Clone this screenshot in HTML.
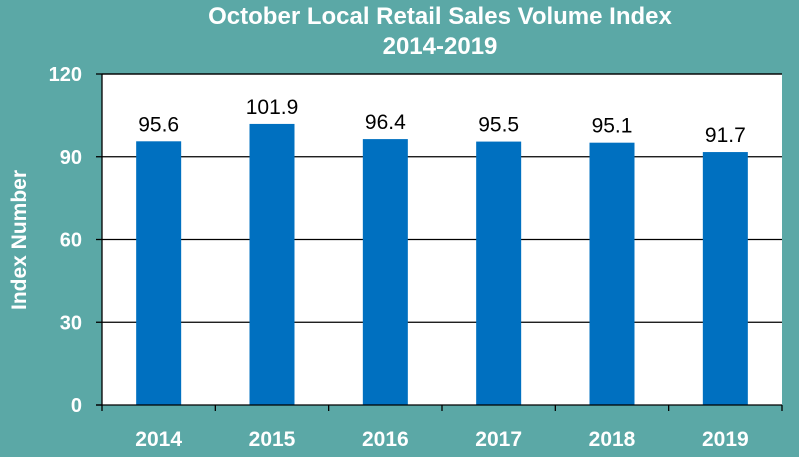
<!DOCTYPE html>
<html><head><meta charset="utf-8"><style>
html,body{margin:0;padding:0;background:#5ba8a6;}
svg{display:block;font-family:"Liberation Sans",Arial,sans-serif;}
</style></head><body>
<svg id="chart" width="799" height="457" viewBox="0 0 799 457">
<rect x="0" y="0" width="799" height="457" fill="#5ba8a6"/>
<text x="440" y="24" text-anchor="middle" font-size="24" font-weight="bold" fill="#fff">October Local Retail Sales Volume Index</text>
<text x="440" y="54" text-anchor="middle" font-size="24" font-weight="bold" fill="#fff">2014-2019</text>
<rect x="102" y="74" width="680" height="331" fill="#fff"/>
<text transform="translate(26,240) rotate(-90)" text-anchor="middle" font-size="21" font-weight="bold" fill="#fff">Index Number</text>
<g id="grid"></g><g id="bars"></g><g id="axes"></g>
</svg>
<script>
const categories = ["2014","2015","2016","2017","2018","2019"];
const values = [95.6,101.9,96.4,95.5,95.1,91.7];
const valueLabels = ["95.6","101.9","96.4","95.5","95.1","91.7"];
const yTicks = [0,30,60,90,120];
const NS="http://www.w3.org/2000/svg";
const PL=102,PR=782,PT=74,PB=405,YMAX=120;
const yScale=v=>PB-(v/YMAX)*(PB-PT);
const band=(PR-PL)/categories.length;
const xc=i=>PL+band*(i+0.5);
function mk(tag,attrs,parent,text){const e=document.createElementNS(NS,tag);for(const k in attrs)e.setAttribute(k,attrs[k]);if(text!==undefined)e.textContent=text;parent.appendChild(e);return e;}
const gridG=document.getElementById('grid'),barsG=document.getElementById('bars'),axesG=document.getElementById('axes');
yTicks.forEach(t=>{
  if(t>0){const g=mk('line',{x1:PL,x2:PR,y1:yScale(t),y2:yScale(t),stroke:'#000','stroke-width':1.3},gridG);
  
  }
  const tk=mk('line',{x1:PL-6,x2:PL,y1:yScale(t),y2:yScale(t),stroke:'#000','stroke-width':1.3},axesG);
  
  
  const lb=mk('text',{x:PL-20,y:yScale(t)+7,'text-anchor':'end','font-size':20,'font-weight':'bold',fill:'#fff'},axesG,String(t));
  
  
});
const bw=45;
categories.forEach((c,i)=>{
  const b=mk('rect',{x:xc(i)-bw/2,y:yScale(values[i]),width:bw,height:PB-yScale(values[i]),fill:'#0070c0'},barsG);
  
  
  const v=mk('text',{x:xc(i),y:yScale(values[i])-10,'text-anchor':'middle','font-size':21,fill:'#000'},barsG,valueLabels[i]);
  
  
  const xl=mk('text',{x:xc(i),y:446,'text-anchor':'middle','font-size':21,'font-weight':'bold',fill:'#fff'},axesG,c);
  
  
});
for(let i=0;i<=categories.length;i++){
  const t=mk('line',{x1:PL+band*i,x2:PL+band*i,y1:PB,y2:PB+6,stroke:'#000','stroke-width':1.3},axesG);
  
  
}
const ya=mk('line',{x1:PL,x2:PL,y1:PT,y2:PB,stroke:'#000','stroke-width':1.3},axesG);


const xa=mk('line',{x1:PL-6,x2:PR,y1:PB,y2:PB,stroke:'#000','stroke-width':1.3},axesG);


const topBorder=mk('line',{x1:PL,x2:PR,y1:PT,y2:PT,stroke:'#000','stroke-width':1.3},axesG);


</script>
</body></html>
